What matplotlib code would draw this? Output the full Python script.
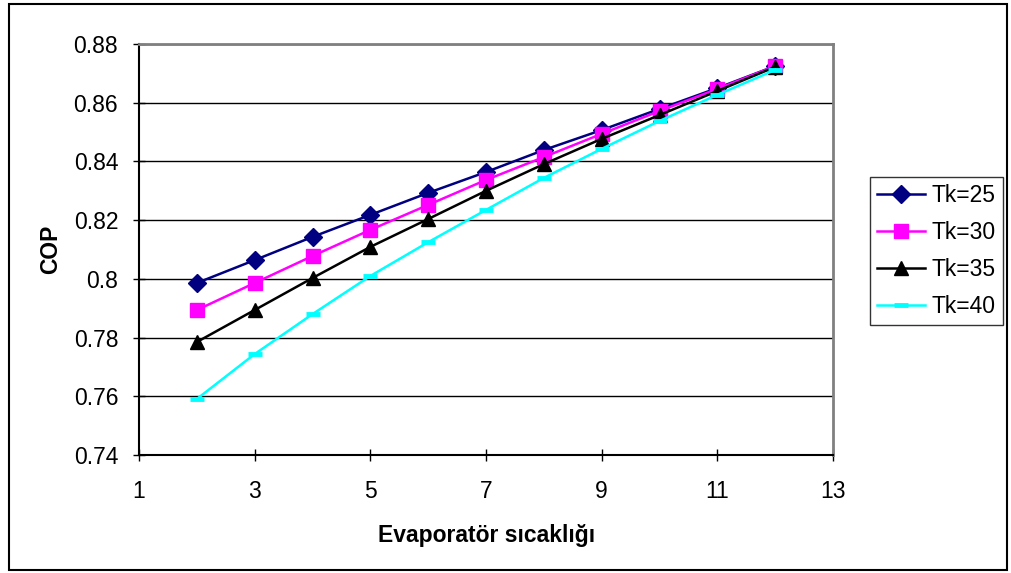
import matplotlib.pyplot as plt
from matplotlib.patches import Rectangle

plt.rcParams['font.family'] = ['Liberation Sans', 'DejaVu Sans']

# evaporator temperature
x = [2, 3, 4, 5, 6, 7, 8, 9, 10, 11, 12]

# COP for each condenser temperature
tk25 = [0.7986, 0.8064, 0.8143, 0.8218, 0.8293, 0.8364, 0.8439, 0.8507, 0.8579, 0.8650, 0.8725]
tk30 = [0.7894, 0.7986, 0.8078, 0.8167, 0.8252, 0.8337, 0.8415, 0.8494, 0.8572, 0.8647, 0.8725]
tk35 = [0.7785, 0.7894, 0.8003, 0.8109, 0.8204, 0.8300, 0.8391, 0.8477, 0.8558, 0.8640, 0.8722]
tk40 = [0.7591, 0.7744, 0.7880, 0.8010, 0.8125, 0.8235, 0.8344, 0.8443, 0.8538, 0.8627, 0.8712]

labels = ['Tk=25', 'Tk=30', 'Tk=35', 'Tk=40']

fs = 16.5

fig = plt.figure(figsize=(10.12, 5.73), dpi=100)
ax = fig.add_axes([0.1374, 0.2059, 0.6858, 0.7173])

ax.plot(x, tk25, color='#000080', marker='D', markersize=9, lw=1.8, label=labels[0])
ax.plot(x, tk30, color='#ff00ff', marker='s', markersize=10, lw=1.8, label=labels[1])
ax.plot(x, tk35, color='black', marker='^', markersize=10, lw=1.8, label=labels[2])
ax.plot(x, tk40, color='#00ffff', marker='_', markersize=10, mew=3.5, lw=1.8, label=labels[3])

ax.set_xlim(1, 13)
ax.set_ylim(0.74, 0.88)
ax.set_xticks([1, 3, 5, 7, 9, 11, 13])
ax.set_yticks([0.74, 0.76, 0.78, 0.8, 0.82, 0.84, 0.86, 0.88])
ax.set_yticklabels(['0.74', '0.76', '0.78', '0.8', '0.82', '0.84', '0.86', '0.88'])
ax.grid(axis='y', color='black', lw=1)
ax.set_axisbelow(True)

ax.tick_params(direction='inout', length=8, width=1, labelsize=fs)
ax.tick_params(axis='x', pad=14)
ax.tick_params(axis='y', pad=11)
for s in ['top', 'right']:
    ax.spines[s].set_color('#808080')
    ax.spines[s].set_linewidth(2)
for s in ['left', 'bottom']:
    ax.spines[s].set_linewidth(1.5)

ax.set_xlabel('Evaporatör sıcaklığı', fontsize=fs, fontweight='bold', labelpad=15)
ax.set_ylabel('COP', fontsize=fs, fontweight='bold', labelpad=8)

leg = fig.legend(loc='upper left', bbox_to_anchor=(870 / 1012, 1 - 177 / 573), fontsize=fs,
                 frameon=True, fancybox=False, edgecolor='black', borderpad=0.3,
                 borderaxespad=0, handlelength=2.1, labelspacing=0.62, handletextpad=0.3)
leg.get_frame().set_linewidth(1)

fig.patches.append(Rectangle((0.009, 0.005), 0.986, 0.988, transform=fig.transFigure,
                             fill=False, edgecolor='black', lw=1.5))

fig.savefig('out.png', dpi=100)
